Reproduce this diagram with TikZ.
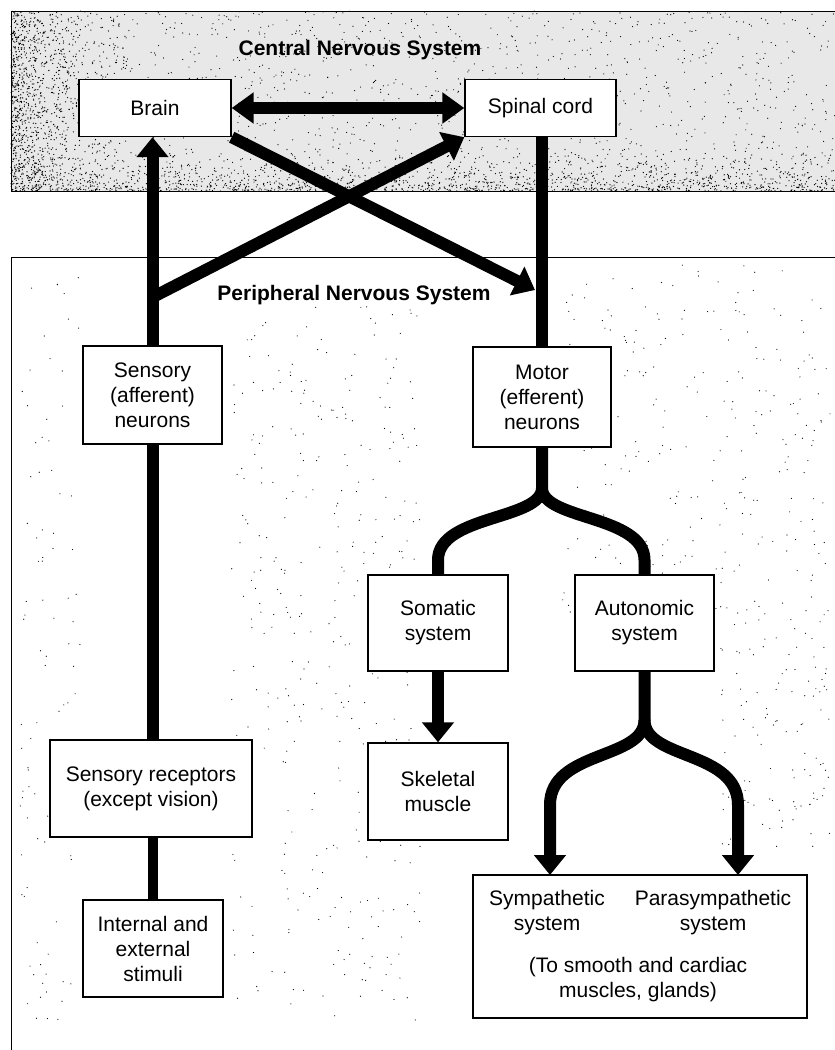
\documentclass[tikz,border=0pt]{standalone}
\usepackage{fontspec}
\setmainfont{Liberation Sans}
\usetikzlibrary{arrows.meta}
\pgfdeclarelayer{bg}
\pgfdeclarelayer{conn}
\pgfsetlayers{bg,conn,main}
\newcommand\diafs{\fontsize{21}{25}\selectfont}
\begin{document}
\begin{tikzpicture}[x=1pt,y=-1pt,
  box/.style={draw, line width=1.4pt, fill=white, align=center, inner sep=0pt, font=\diafs},
  plain/.style={align=center, inner sep=0pt, font=\diafs},
  title/.style={inner sep=0pt, font=\diafs\bfseries},
  nerve/.style={line width=12pt},
  tipped/.style={-{Triangle[length=20pt,width=31pt]}},
  dot/.style={fill=black}]
\useasboundingbox (0,0) rectangle (835,1050);

% ---------- nodes ----------
\node[title] (cnst) at (360,50) {Central Nervous System};
\node[title] (pnst) at (354,295) {Peripheral Nervous System};
\node[box, minimum width=152pt, minimum height=57pt] (brain) at (155,108) {Brain};
\node[box, minimum width=151pt, minimum height=57pt] (spinal) at (540.5,108) {Spinal cord};
\node[box, minimum width=139pt, minimum height=98pt] (sens) at (152.5,395) {Sensory\\(afferent)\\neurons};
\node[box, minimum width=138pt, minimum height=100pt] (motor) at (542,397) {Motor\\(efferent)\\neurons};
\node[box, minimum width=140pt, minimum height=96pt] (soma) at (438,623) {Somatic\\system};
\node[box, minimum width=139pt, minimum height=96pt] (auto) at (644.5,623) {Autonomic\\system};
\node[box, minimum width=140pt, minimum height=97pt] (skel) at (438,791.5) {Skeletal\\muscle};
\node[box, minimum width=202pt, minimum height=97pt] (rec) at (151,788.5) {Sensory receptors\\(except vision)};
\node[box, minimum width=140pt, minimum height=97pt] (stim) at (153,948.5) {Internal and\\external\\stimuli};
\node[box, minimum width=334pt, minimum height=143pt] (bot) at (640,946.5) {};
\node[plain] (symp) at (547,913) {Sympathetic\\system};
\node[plain] (para) at (713,913) {Parasympathetic\\system};
\node[plain] (tosm) at (638,979.5) {(To smooth and cardiac\\muscles, glands)};

% ---------- background ----------
\begin{pgfonlayer}{bg}
\pgfmathsetseed{7}
\fill[black!9] (11,11) rectangle (840,191);
\foreach \i in {1,...,1300}{\fill[dot] ({11+824*rnd},{11+180*rnd}) circle (0.6);}
\foreach \i in {1,...,1100}{\fill[dot] ({11+130*rnd*rnd},{11+180*rnd}) circle (0.65);}
\foreach \i in {1,...,1400}{\fill[dot] ({11+824*rnd},{191-45*rnd*rnd}) circle (0.65);}
\foreach \i in {1,...,350}{\fill[dot] ({230+190*rnd},{305+715*rnd}) circle (0.6);}
\foreach \i in {1,...,250}{\fill[dot] ({560+270*rnd},{265+350*rnd}) circle (0.6);}
\foreach \i in {1,...,90}{\fill[dot] ({20+60*rnd},{265+760*rnd}) circle (0.6);}
\foreach \i in {1,...,120}{\fill[dot] ({720+110*rnd},{600+250*rnd}) circle (0.6);}
\draw[line width=1pt] (840,11) -- (11,11) -- (11,191) -- (840,191);
\draw[line width=1pt] (840,257) -- (11,257) -- (11,1055);
\end{pgfonlayer}

% ---------- connectors ----------
\begin{pgfonlayer}{conn}
\coordinate (sbr) at (153,297);
\coordinate (mtip) at (535,290);
\coordinate (mfork) at (542,488);
\coordinate (afork) at (644.5,720);
\coordinate (symtip) at (550,875);
\coordinate (partip) at (738,875);
\draw[nerve, {Triangle[length=22pt,width=30pt]}-{Triangle[length=22pt,width=30pt]}]
  (brain.east) -- (spinal.west);
\draw[nerve, tipped] (sens.north) -- (sens.north |- brain.south);
\draw[nerve, tipped] (sbr) -- (spinal.south west);
\draw[nerve, tipped] (brain.south east) -- (mtip);
\draw[nerve] (motor.north |- spinal.south) -- (motor.north);
\draw[nerve] (motor.south) -- (mfork) .. controls (542,520) and (438,515) .. (438,560) -- (soma.north);
\draw[nerve] (mfork) .. controls (542,520) and (644.5,515) .. (644.5,560) -- (auto.north);
\draw[nerve, tipped] (soma.south) -- (skel.north);
\draw[nerve, tipped] (auto.south) -- (afork) .. controls (644.5,760) and (550,750) .. (550,805) -- (symtip);
\draw[nerve, tipped] (afork) .. controls (644.5,760) and (738,750) .. (738,805) -- (partip);
\draw[nerve] (sens.south) -- (sens.south |- rec.north);
\draw[line width=10pt] (stim.north) -- (stim.north |- rec.south);
\end{pgfonlayer}
\end{tikzpicture}
\end{document}
